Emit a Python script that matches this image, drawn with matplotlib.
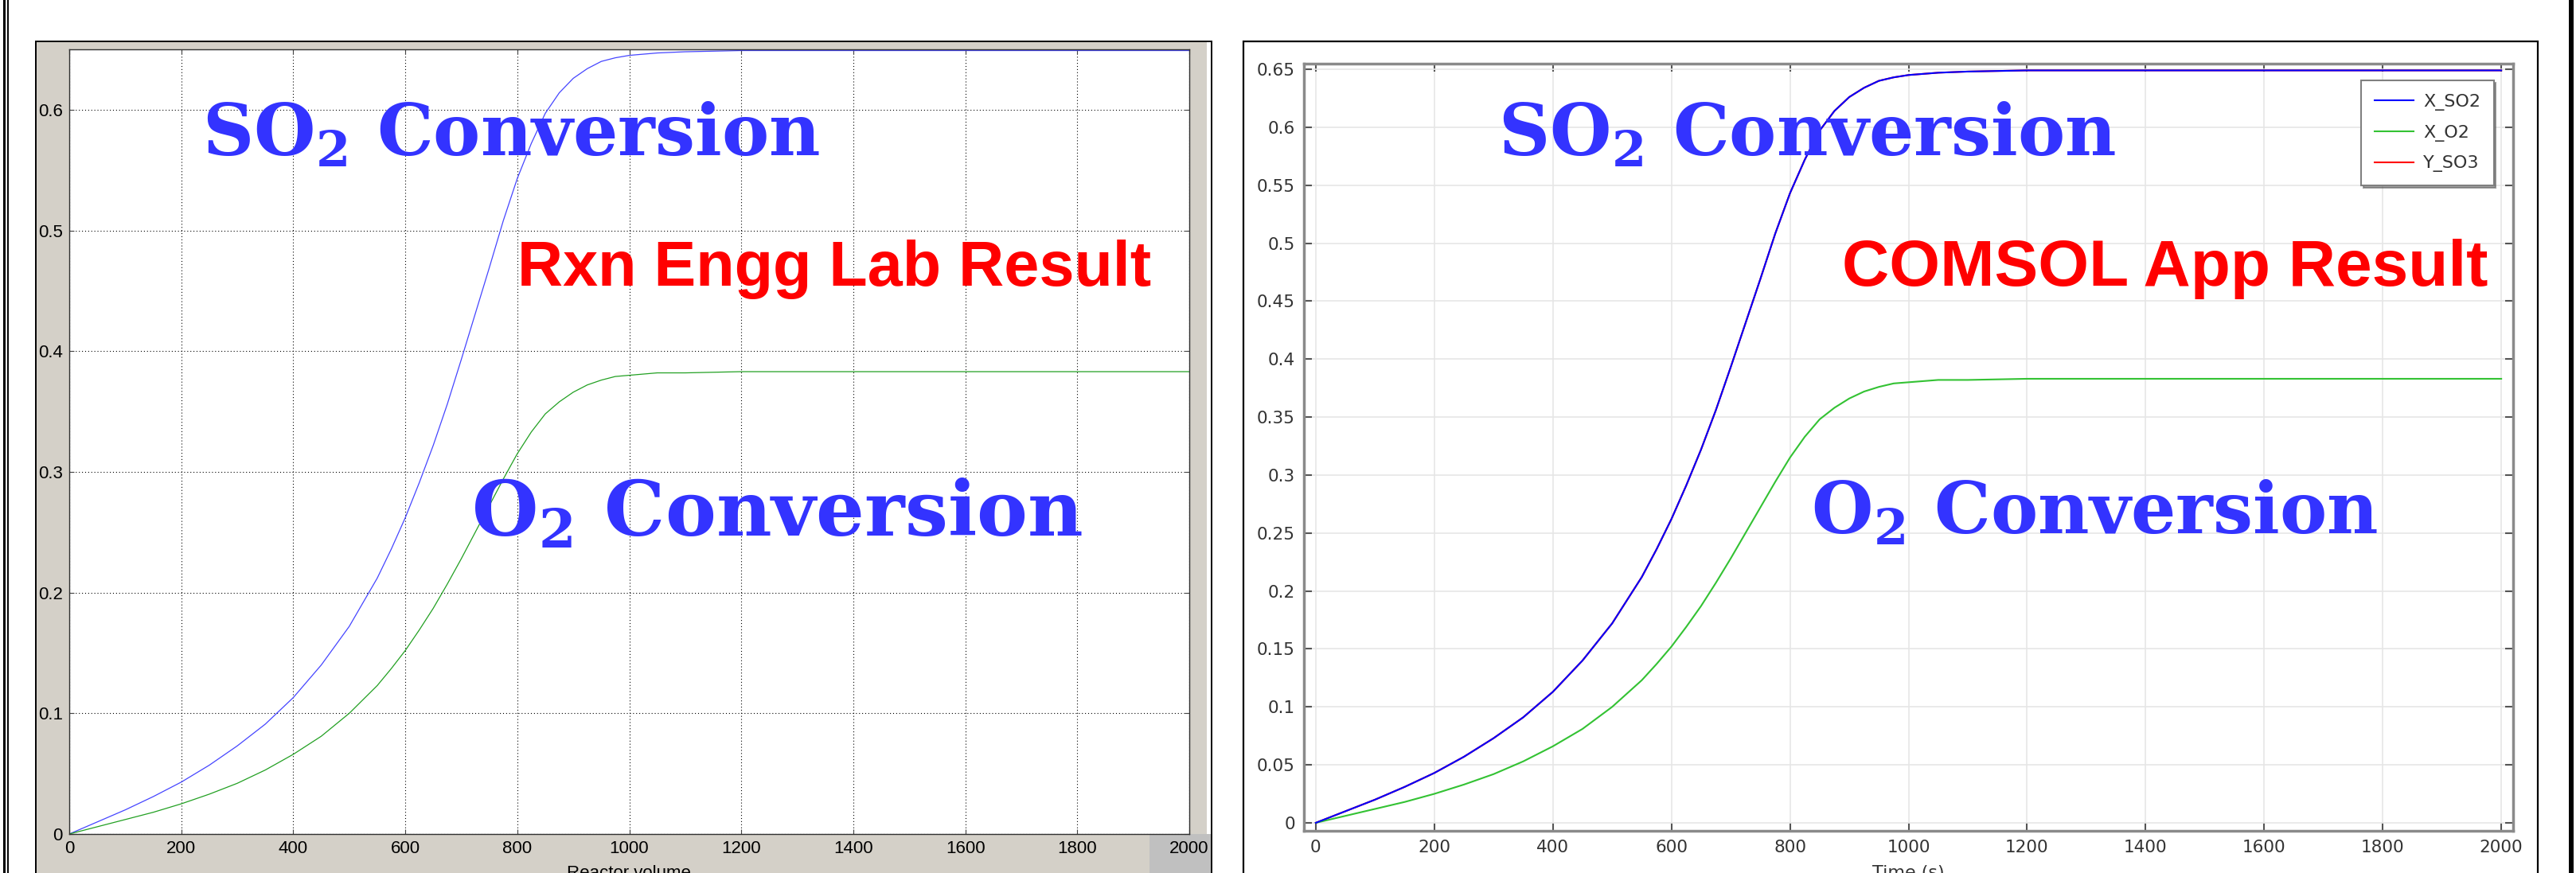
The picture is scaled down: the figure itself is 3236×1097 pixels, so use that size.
import matplotlib
matplotlib.use("Agg")
import matplotlib.pyplot as plt
from matplotlib.patches import Rectangle
from matplotlib.lines import Line2D
from matplotlib.ticker import FormatStrFormatter

# values (both panels show the same run)
vol = [0, 50, 100, 150, 200, 250, 300, 350, 400, 450, 500, 550, 575, 600, 625,
       650, 675, 700, 725, 750, 775, 800, 825, 850, 875, 900, 925, 950, 975,
       1000, 1050, 1100, 1200, 1400, 1600, 1800, 2000]
x_so2 = [0, 0.010, 0.020, 0.031, 0.043, 0.057, 0.073, 0.091, 0.113, 0.140,
         0.172, 0.212, 0.236, 0.262, 0.291, 0.322, 0.356, 0.393, 0.431, 0.469,
         0.508, 0.543, 0.572, 0.597, 0.614, 0.626, 0.634, 0.640, 0.643,
         0.645, 0.647, 0.648, 0.649, 0.649, 0.649, 0.649, 0.649]
x_o2 = [0, 0.006, 0.012, 0.018, 0.025, 0.033, 0.042, 0.053, 0.066, 0.081,
        0.100, 0.123, 0.137, 0.152, 0.169, 0.187, 0.207, 0.228, 0.250, 0.272,
        0.294, 0.315, 0.333, 0.348, 0.358, 0.366, 0.372, 0.376, 0.379,
        0.380, 0.382, 0.382, 0.383, 0.383, 0.383, 0.383, 0.383]
y_so3 = x_so2  # hidden under the blue line in the COMSOL panel

left_xticks = list(range(0, 2001, 200))
left_yticks = [0, 0.1, 0.2, 0.3, 0.4, 0.5, 0.6]
right_yticks = [0, 0.05, 0.1, 0.15, 0.2, 0.25, 0.3, 0.35, 0.4, 0.45, 0.5, 0.55, 0.6, 0.65]

W, H = 3236, 1097


def fx(px):
    return px / W


def fy(py):
    return 1 - py / H


plt.rcParams["mathtext.fontset"] = "custom"
plt.rcParams["mathtext.rm"] = "DejaVu Serif:bold"
plt.rcParams["mathtext.it"] = "DejaVu Serif:bold"
plt.rcParams["mathtext.bf"] = "DejaVu Serif:bold"

fig = plt.figure(figsize=(W / 100, H / 100), dpi=100)
fig.patch.set_facecolor("white")

# outer double border
fig.add_artist(Line2D([fx(4.5), fx(4.5)], [0, 1], color="black", lw=2.2))
fig.add_artist(Line2D([fx(9.5), fx(9.5)], [0, 1], color="black", lw=1.4))
fig.add_artist(Line2D([fx(3230), fx(3230)], [0, 1], color="black", lw=4.3))

# left panel: grey window frame
fig.add_artist(Rectangle((fx(45), fy(1110)), fx(1522) - fx(45), fy(52) - fy(1110),
                         facecolor="#d4d0c8", edgecolor="black", lw=1.4, zorder=-2))
fig.add_artist(Rectangle((fx(1516), fy(1110)), fx(1521) - fx(1516), fy(53) - fy(1110),
                         facecolor="white", edgecolor="none", zorder=-1))
fig.add_artist(Rectangle((fx(1444), 0), fx(1521) - fx(1444), fy(1048),
                         facecolor="#c0c0c0", edgecolor="none", zorder=-1))

# right panel frame
fig.add_artist(Rectangle((fx(1562), fy(1110)), fx(3188) - fx(1562), fy(52) - fy(1110),
                         facecolor="white", edgecolor="black", lw=1.6, zorder=-2))

# ---- left chart
axl = fig.add_axes([fx(87), fy(1048), fx(1494) - fx(87), fy(62) - fy(1048)])
axl.plot(vol, x_so2, color="#4545ff", lw=0.9)
axl.plot(vol, x_o2, color="#22a022", lw=0.9)
axl.set_xlim(0, 2000)
axl.set_ylim(0, 0.65)
axl.set_xticks(left_xticks)
axl.set_yticks(left_yticks)
axl.set_yticklabels(["0", "0.1", "0.2", "0.3", "0.4", "0.5", "0.6"])
axl.grid(True, color="black", linestyle=(0, (1, 2.5)), lw=0.8)
axl.tick_params(direction="in", length=4, width=0.8, color="#444444",
                top=True, right=True, labelsize=16, pad=6)
for lab in axl.get_xticklabels() + axl.get_yticklabels():
    lab.set_fontfamily("Liberation Sans")
for sp in axl.spines.values():
    sp.set_color("#303030")
    sp.set_linewidth(1.0)
fig.text(fx(790), fy(1087), "Reactor volume", ha="center", va="top",
         fontsize=16, family="Liberation Sans")

# ---- right chart
axr = fig.add_axes([fx(1638), fy(1044), fx(3157) - fx(1638), fy(80) - fy(1044)])
axr.plot(vol, y_so3, color="#ff0000", lw=1.5, label="Y_SO3", zorder=2)
axr.plot(vol, x_o2, color="#33c233", lw=1.5, label="X_O2", zorder=3)
axr.plot(vol, x_so2, color="#0000ff", lw=1.5, label="X_SO2", zorder=4)
axr.set_xlim(-20, 2020)
axr.set_ylim(-0.0069, 0.6548)
axr.set_xticks(left_xticks)
axr.set_yticks(right_yticks)
axr.yaxis.set_major_formatter(FormatStrFormatter("%g"))
axr.grid(True, color="#e6e6e6", lw=1.2)
axr.tick_params(direction="in", length=7, width=1.5, color="#555555",
                top=True, right=True, labelsize=15.5, labelcolor="#333333", pad=8)
for sp in axr.spines.values():
    sp.set_color("#8a8a8a")
    sp.set_linewidth(2.5)
h, l = axr.get_legend_handles_labels()
order = [2, 1, 0]
leg = axr.legend([h[i] for i in order], [l[i] for i in order], loc="upper right",
                 bbox_to_anchor=(0.984, 0.978), fontsize=16, handlelength=2.2,
                 handletextpad=0.55, fancybox=False, shadow=True, framealpha=1,
                 edgecolor="#808080", borderpad=0.75, labelspacing=0.8,
                 borderaxespad=0)
leg.get_frame().set_linewidth(1.5)
for t in leg.get_texts():
    t.set_color("#333333")
fig.text(fx(2397), fy(1087), "Time (s)", ha="center", va="top",
         fontsize=16, color="#333333")

# ---- annotations
blue = "#3333ff"
red = "#ff0000"
for x0 in (254, 1882):
    fig.text(fx(x0), fy(196), r"SO$_2$ Conversion", color=blue, fontsize=64,
             family="DejaVu Serif", weight="bold", va="baseline", ha="left")
fig.text(fx(592), fy(673), r"O$_2$ Conversion", color=blue, fontsize=69,
         family="DejaVu Serif", weight="bold", va="baseline", ha="left")
fig.text(fx(2275), fy(671), r"O$_2$ Conversion", color=blue, fontsize=64,
         family="DejaVu Serif", weight="bold", va="baseline", ha="left")
fig.text(fx(650), fy(359), "Rxn Engg Lab Result", color=red, fontsize=57,
         family="Liberation Sans", weight="bold", va="baseline", ha="left")
fig.text(fx(2314), fy(359), "COMSOL App Result", color=red, fontsize=59,
         family="Liberation Sans", weight="bold", va="baseline", ha="left")

fig.savefig("out.png", dpi=100)
